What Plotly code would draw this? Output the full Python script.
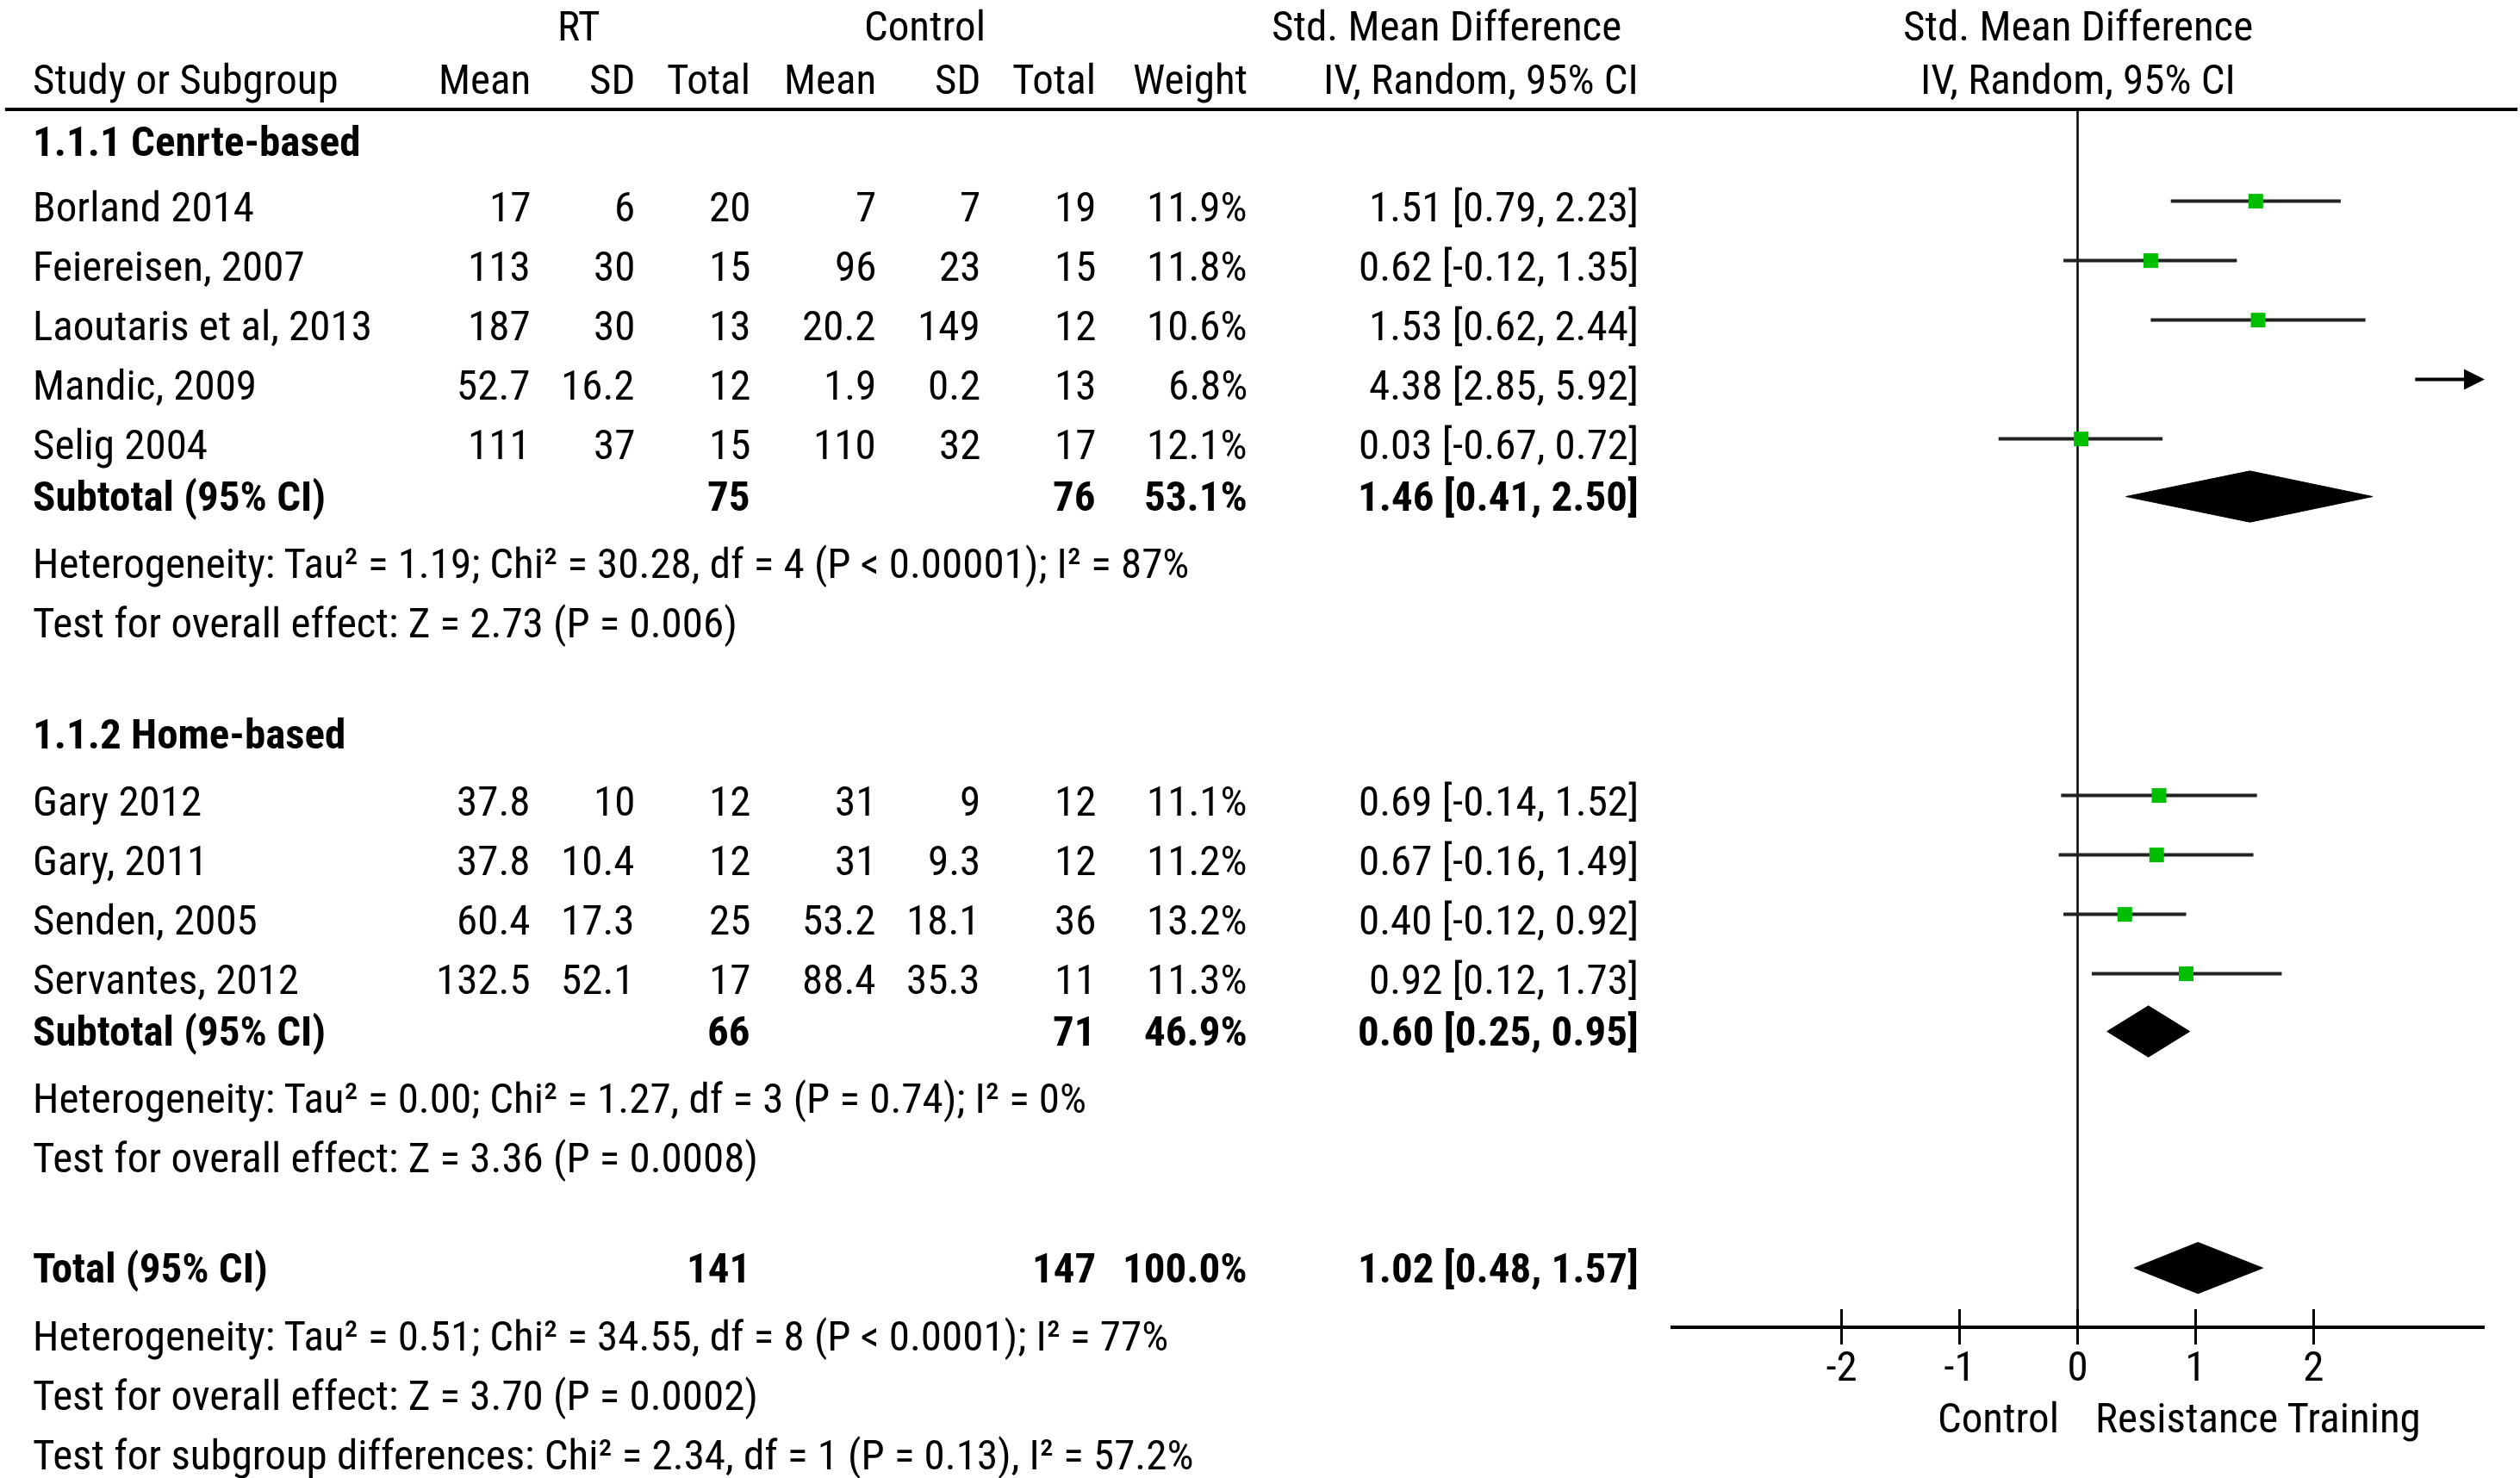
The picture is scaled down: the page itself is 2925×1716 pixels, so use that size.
import plotly.graph_objects as go

# ---------------- data ----------------
g1_names = ["Borland 2014", "Feiereisen, 2007", "Laoutaris et al, 2013", "Mandic, 2009", "Selig 2004"]
g1_rt_mean = [17, 113, 187, 52.7, 111]
g1_rt_sd = [6, 30, 30, 16.2, 37]
g1_rt_n = [20, 15, 13, 12, 15]
g1_ct_mean = [7, 96, 20.2, 1.9, 110]
g1_ct_sd = [7, 23, 149, 0.2, 32]
g1_ct_n = [19, 15, 12, 13, 17]
g1_weight = [11.9, 11.8, 10.6, 6.8, 12.1]
g1_smd = [1.51, 0.62, 1.53, 4.38, 0.03]
g1_lo = [0.79, -0.12, 0.62, 2.85, -0.67]
g1_hi = [2.23, 1.35, 2.44, 5.92, 0.72]

g2_names = ["Gary 2012", "Gary, 2011", "Senden, 2005", "Servantes, 2012"]
g2_rt_mean = [37.8, 37.8, 60.4, 132.5]
g2_rt_sd = [10, 10.4, 17.3, 52.1]
g2_rt_n = [12, 12, 25, 17]
g2_ct_mean = [31, 31, 53.2, 88.4]
g2_ct_sd = [9, 9.3, 18.1, 35.3]
g2_ct_n = [12, 12, 36, 11]
g2_weight = [11.1, 11.2, 13.2, 11.3]
g2_smd = [0.69, 0.67, 0.40, 0.92]
g2_lo = [-0.14, -0.16, -0.12, 0.12]
g2_hi = [1.52, 1.49, 0.92, 1.73]

group_titles = ["1.1.1 Cenrte-based", "1.1.2 Home-based"]
sub_rt_n = [75, 66]
sub_ct_n = [76, 71]
sub_weight = [53.1, 46.9]
sub_smd = [1.46, 0.60]
sub_lo = [0.41, 0.25]
sub_hi = [2.50, 0.95]
sub_het = ["Heterogeneity: Tau² = 1.19; Chi² = 30.28, df = 4 (P < 0.00001); I² = 87%",
           "Heterogeneity: Tau² = 0.00; Chi² = 1.27, df = 3 (P = 0.74); I² = 0%"]
sub_test = ["Test for overall effect: Z = 2.73 (P = 0.006)",
            "Test for overall effect: Z = 3.36 (P = 0.0008)"]

tot_rt_n = 141
tot_ct_n = 147
tot_weight = 100.0
tot_smd = 1.02
tot_lo = 0.48
tot_hi = 1.57
tot_lines = ["Heterogeneity: Tau² = 0.51; Chi² = 34.55, df = 8 (P < 0.0001); I² = 77%",
             "Test for overall effect: Z = 3.70 (P = 0.0002)",
             "Test for subgroup differences: Chi² = 2.34, df = 1 (P = 0.13), I² = 57.2%"]

x_ticks = [-2, -1, 0, 1, 2]
x_tick_labels = ["-2", "-1", "0", "1", "2"]
favours_left = "Control"
favours_right = "Resistance Training"

# ---------------- layout constants ----------------
W, H = 2925, 1716
FONT = "Liberation Sans Narrow, Arial Narrow, Roboto Condensed, DejaVu Sans Condensed, sans-serif"
FS = 49
XR = [-3.45, 3.45]
ROW0_PX, ROW_PX = 240.5, 69.0
y_range = [(H - ROW0_PX) / ROW_PX, -ROW0_PX / ROW_PX]
MARK_OFF = -0.1

col = {  # x in pixels: (position, anchor)
    "name": (36, "left"), "rt_mean": (618, "right"), "rt_sd": (739, "right"), "rt_n": (873, "right"),
    "ct_mean": (1019, "right"), "ct_sd": (1140, "right"), "ct_n": (1274, "right"),
    "weight": (1450, "right"), "ci": (1904, "right"),
}

ann = []


def txt(key_or_px, y, s, bold=False, anchor=None, yref="y", yanchor="middle", yshift=0):
    if isinstance(key_or_px, str):
        px, a = col[key_or_px]
    else:
        px, a = key_or_px, "center"
    if anchor:
        a = anchor
    ann.append(dict(x=px / W, xref="paper", y=y, yref=yref, text=("<b>%s</b>" % s) if bold else s,
                    showarrow=False, xanchor=a, yanchor=yanchor, yshift=yshift,
                    font=dict(family=FONT, size=FS, color="black")))


def num(v):
    return f"{v:g}"


def ci(e, l, h):
    return f"{e:.2f} [{l:.2f}, {h:.2f}]"


# headers
txt(672, 1, "RT", yref="paper", yanchor="top")
txt(1073, 1, "Control", yref="paper", yanchor="top")
txt(1679, 1, "Std. Mean Difference", yref="paper", yanchor="top")
txt("name", -2.15, "Study or Subgroup")
for k, s in [("rt_mean", "Mean"), ("rt_sd", "SD"), ("rt_n", "Total"), ("ct_mean", "Mean"),
             ("ct_sd", "SD"), ("ct_n", "Total"), ("weight", "Weight"), ("ci", "IV, Random, 95% CI")]:
    txt(k, -2.15, s)
ann.append(dict(x=0, xref="x", y=1, yref="paper", text="Std. Mean Difference", showarrow=False,
                xanchor="center", yanchor="top", font=dict(family=FONT, size=FS, color="black")))
ann.append(dict(x=0, xref="x", y=-2.15, yref="y", text="IV, Random, 95% CI", showarrow=False,
                xanchor="center", yanchor="middle", font=dict(family=FONT, size=FS, color="black")))

groups = [
    (g1_names, g1_rt_mean, g1_rt_sd, g1_rt_n, g1_ct_mean, g1_ct_sd, g1_ct_n, g1_weight, g1_smd, g1_lo, g1_hi),
    (g2_names, g2_rt_mean, g2_rt_sd, g2_rt_n, g2_ct_mean, g2_ct_sd, g2_ct_n, g2_weight, g2_smd, g2_lo, g2_hi),
]

pt_x, pt_y, pt_plus, pt_minus = [], [], [], []
arrows = []
diamonds = []
row = -1.1
for gi, g in enumerate(groups):
    names, rm, rs, rn, cm, cs, cn, wt, e, lo, hi = g
    txt("name", row, group_titles[gi], bold=True)
    row = round(row + 1.1) if gi == 0 else round(row + 1.13)
    for i in range(len(names)):
        txt("name", row, names[i])
        txt("rt_mean", row, num(rm[i]))
        txt("rt_sd", row, num(rs[i]))
        txt("rt_n", row, num(rn[i]))
        txt("ct_mean", row, num(cm[i]))
        txt("ct_sd", row, num(cs[i]))
        txt("ct_n", row, num(cn[i]))
        txt("weight", row, f"{wt[i]:.1f}%")
        txt("ci", row, ci(e[i], lo[i], hi[i]))
        if XR[0] <= e[i] <= XR[1]:
            pt_x.append(e[i]); pt_y.append(row + MARK_OFF)
            pt_plus.append(hi[i] - e[i]); pt_minus.append(e[i] - lo[i])
        else:
            arrows.append((lo[i], row + MARK_OFF))
        row += 1
    srow = row - 0.13
    txt("name", srow, "Subtotal (95% CI)", bold=True)
    txt("rt_n", srow, str(sub_rt_n[gi]), bold=True)
    txt("ct_n", srow, str(sub_ct_n[gi]), bold=True)
    txt("weight", srow, f"{sub_weight[gi]:.1f}%", bold=True)
    txt("ci", srow, ci(sub_smd[gi], sub_lo[gi], sub_hi[gi]), bold=True)
    diamonds.append((sub_smd[gi], sub_lo[gi], sub_hi[gi], srow))
    row += 1
    txt("name", row, sub_het[gi])
    row += 1
    txt("name", row, sub_test[gi])
    row += 1.87 if gi == 0 else 1.85

trow = row
txt("name", trow, "Total (95% CI)", bold=True)
txt("rt_n", trow, str(tot_rt_n), bold=True)
txt("ct_n", trow, str(tot_ct_n), bold=True)
txt("weight", trow, f"{tot_weight:.1f}%", bold=True)
txt("ci", trow, ci(tot_smd, tot_lo, tot_hi), bold=True)
diamonds.append((tot_smd, tot_lo, tot_hi, trow))
r = round(trow + 1.15)
for s in tot_lines:
    txt("name", r, s)
    r += 1

fig = go.Figure()

# study points with CIs
fig.add_trace(go.Scatter(
    x=pt_x, y=pt_y, mode="markers",
    marker=dict(symbol="square", size=17, color="#00BF00", line=dict(width=0)),
    error_x=dict(type="data", symmetric=False, array=pt_plus, arrayminus=pt_minus,
                 color="#222222", thickness=4, width=0),
    hoverinfo="skip", showlegend=False))

# diamonds
DH = 0.43
for e, l, h, rr in diamonds:
    fig.add_trace(go.Scatter(x=[l, e, h, e, l], y=[rr, rr - DH, rr, rr + DH, rr], mode="lines",
                             fill="toself", fillcolor="black", line=dict(color="black", width=1),
                             hoverinfo="skip", showlegend=False))

# dummy trace for outside ticks axis
fig.add_trace(go.Scatter(x=[None], y=[None], xaxis="x2", yaxis="y", showlegend=False, hoverinfo="skip"))

# arrows for estimates beyond axis
for l, rr in arrows:
    ann.append(dict(x=XR[1], y=rr, xref="x", yref="y", ax=l, ay=rr, axref="x", ayref="y",
                    showarrow=True, arrowhead=2, arrowsize=1.2, arrowwidth=4, arrowcolor="black", text=""))

# axis labels (favours)
ann.append(dict(x=0, xref="x", y=1 - 1646 / H, yref="paper", text=favours_left, showarrow=False,
                xanchor="right", xshift=-20, yanchor="middle", font=dict(family=FONT, size=FS, color="black")))
ann.append(dict(x=0, xref="x", y=1 - 1646 / H, yref="paper", text=favours_right, showarrow=False,
                xanchor="left", xshift=18, yanchor="middle", font=dict(family=FONT, size=FS, color="black")))

AX_Y = 1 - 1541 / H
TOP_Y = 1 - 127 / H
xdom = [1939 / W, 2884 / W]

fig.update_layout(
    width=W, height=H, margin=dict(l=0, r=0, t=0, b=0),
    paper_bgcolor="white", plot_bgcolor="white",
    xaxis=dict(domain=xdom, range=XR, anchor="free", position=AX_Y, showgrid=False, zeroline=False,
               showline=True, linecolor="black", linewidth=4, ticks="inside", ticklen=19, tickwidth=3,
               tickcolor="black", tickvals=x_ticks, ticktext=x_tick_labels, ticklabelstandoff=1,
               tickfont=dict(family=FONT, size=FS, color="black")),
    xaxis2=dict(domain=xdom, range=XR, overlaying="x", anchor="free", position=AX_Y, showgrid=False,
                zeroline=False, showline=False, ticks="outside", ticklen=19, tickwidth=3, tickcolor="black",
                tickvals=x_ticks, showticklabels=False),
    yaxis=dict(domain=[0, 1], range=y_range, visible=False),
    annotations=ann,
    shapes=[
        dict(type="line", xref="paper", yref="paper", x0=0.002, x1=0.999, y0=TOP_Y, y1=TOP_Y,
             line=dict(color="black", width=4)),
        dict(type="line", xref="x", yref="paper", x0=0, x1=0, y0=AX_Y, y1=TOP_Y,
             line=dict(color="black", width=2.5), layer="below"),
    ],
)

fig.write_html("out.html", post_script="document.body.style.margin='0px';",
               config={"displayModeBar": False})
